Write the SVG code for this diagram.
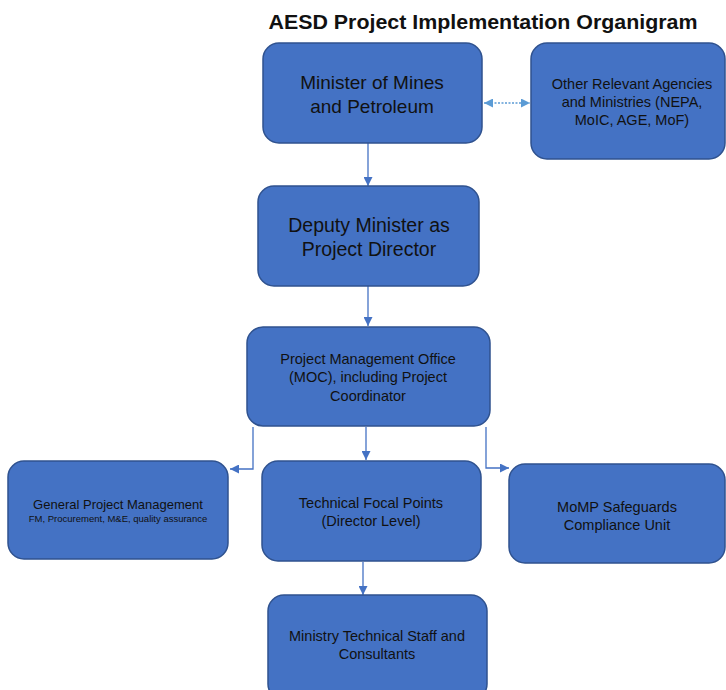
<svg xmlns="http://www.w3.org/2000/svg" width="726" height="690" viewBox="0 0 726 690">
<defs>
<style>
.box{fill:#4472C4;stroke:#2F528F;stroke-width:1.5}
.t{font-family:"Liberation Sans",Arial,sans-serif;fill:#111;text-anchor:middle}
.c{fill:none;stroke:#4472C4;stroke-width:1.3}
.d{fill:none;stroke:#5B9BD5;stroke-width:1.5;stroke-dasharray:2 1.5}
</style>
<marker id="ah" viewBox="0 0 10 10" refX="10" refY="5" markerWidth="9" markerHeight="9" markerUnits="userSpaceOnUse" orient="auto">
<path d="M0,0 L10,5 L0,10 z" fill="#4472C4"/>
</marker>
<marker id="ahl" viewBox="0 0 10 10" refX="10" refY="5" markerWidth="9" markerHeight="9" markerUnits="userSpaceOnUse" orient="auto-start-reverse">
<path d="M0,0 L10,5 L0,10 z" fill="#5B9BD5"/>
</marker>
</defs>
<rect width="726" height="690" fill="#fff"/>
<text class="t" x="483" y="29" font-size="21" font-weight="bold" textLength="429" lengthAdjust="spacingAndGlyphs">AESD Project Implementation Organigram</text>
<g id="connectors">
<path class="d" d="M484,103 L530,103" marker-start="url(#ahl)" marker-end="url(#ahl)"/>
<path class="c" d="M368,143 L368,186" marker-end="url(#ah)"/>
<path class="c" d="M368,286 L368,326" marker-end="url(#ah)"/>
<path class="c" d="M366,427 L366,460" marker-end="url(#ah)"/>
<path class="c" d="M253,427 L253,469 L230,469" marker-end="url(#ah)"/>
<path class="c" d="M486,427 L486,468 L509,468" marker-end="url(#ah)"/>
<path class="c" d="M363,562 L363,595" marker-end="url(#ah)"/>
</g>
<g id="minister">
<rect class="box" x="263" y="43" width="219" height="100" rx="16"/>
<text class="t" font-size="19"><tspan x="372" y="89">Minister of Mines</tspan><tspan x="372" y="113">and Petroleum</tspan></text>
</g>
<g id="other">
<rect class="box" x="531" y="43" width="194" height="116" rx="16"/>
<text class="t" font-size="14.5"><tspan x="632" y="89">Other Relevant Agencies</tspan><tspan x="632" y="107">and Ministries (NEPA,</tspan><tspan x="632" y="125">MoIC, AGE, MoF)</tspan></text>
</g>
<g id="deputy">
<rect class="box" x="258" y="186" width="221" height="100" rx="16"/>
<text class="t" font-size="19.5"><tspan x="369" y="232">Deputy Minister as</tspan><tspan x="369" y="256">Project Director</tspan></text>
</g>
<g id="pmo">
<rect class="box" x="247" y="327" width="243" height="99" rx="16"/>
<text class="t" font-size="14.5"><tspan x="368" y="364">Project Management Office</tspan><tspan x="368" y="382">(MOC), including Project</tspan><tspan x="368" y="401">Coordinator</tspan></text>
</g>
<g id="general">
<rect class="box" x="8" y="461" width="220" height="98" rx="16"/>
<text class="t" font-size="13"><tspan x="118" y="509">General Project Management</tspan></text>
<text class="t" font-size="9.5" x="118" y="522">FM, Procurement, M&amp;E, quality assurance</text>
</g>
<g id="technical">
<rect class="box" x="262" y="461" width="219" height="100" rx="16"/>
<text class="t" font-size="14.5"><tspan x="371" y="508">Technical Focal Points</tspan><tspan x="371" y="526">(Director Level)</tspan></text>
</g>
<g id="momp">
<rect class="box" x="509" y="464" width="216" height="99" rx="16"/>
<text class="t" font-size="14.5"><tspan x="617" y="512">MoMP Safeguards</tspan><tspan x="617" y="530">Compliance Unit</tspan></text>
</g>
<g id="ministry">
<rect class="box" x="268" y="595" width="219" height="105" rx="16"/>
<text class="t" font-size="14.5"><tspan x="377" y="641">Ministry Technical Staff and</tspan><tspan x="377" y="659">Consultants</tspan></text>
</g>
</svg>
